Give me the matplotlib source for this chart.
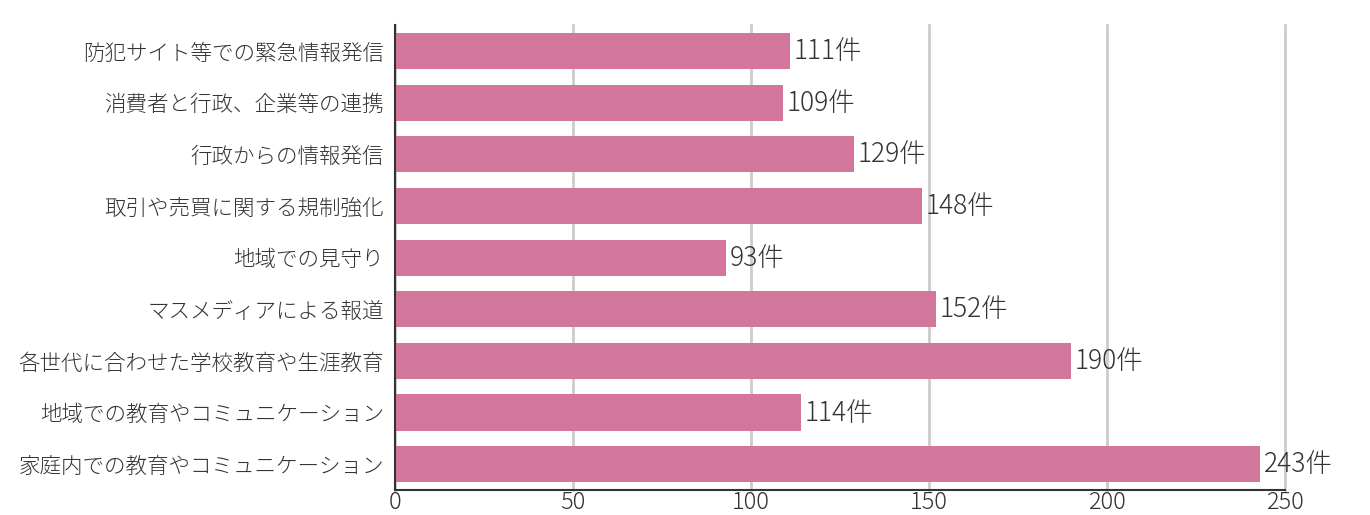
import matplotlib
matplotlib.use("Agg")
import matplotlib.pyplot as plt

plt.rcParams['font.family'] = ['Noto Sans CJK JP', 'DejaVu Sans']

categories = [
    "防犯サイト等での緊急情報発信",
    "消費者と行政、企業等の連携",
    "行政からの情報発信",
    "取引や売買に関する規制強化",
    "地域での見守り",
    "マスメディアによる報道",
    "各世代に合わせた学校教育や生涯教育",
    "地域での教育やコミュニケーション",
    "家庭内での教育やコミュニケーション",
]
values = [111, 109, 129, 148, 93, 152, 190, 114, 243]
xticks = [0, 50, 100, 150, 200, 250]

fig = plt.figure(figsize=(13.7, 5.15), dpi=100)
ax = fig.add_axes([0.2883, 0.0485, 0.9380 - 0.2883, 0.951 - 0.0485])

ypos = list(range(len(categories)))
ax.barh(ypos, values, height=0.7, color="#d3769c", zorder=3)
for y, v in zip(ypos, values):
    ax.text(v + 1, y, f"{v}件", va="center", ha="left", fontsize=19,
            color="#333333", fontweight="light")

ax.set_ylim(len(categories) - 0.5, -0.5)
ax.set_xlim(0, 250)
ax.set_yticks(ypos)
ax.set_yticklabels(categories, fontsize=15.5, color="#333333", fontweight="light")
ax.set_xticks(xticks)
ax.set_xticklabels([str(t) for t in xticks], fontsize=17, color="#333333", fontweight="light")
ax.tick_params(axis="both", length=0)
ax.tick_params(axis="y", pad=8)
ax.tick_params(axis="x", pad=0)

ax.grid(axis="x", color="#cccccc", linewidth=2, zorder=0)
for gl in ax.get_xgridlines():
    gl.set_clip_on(False)
ax.grid(axis="y", visible=False)
for s in ["top", "right"]:
    ax.spines[s].set_visible(False)
ax.spines["left"].set_color("#333333")
ax.spines["bottom"].set_color("#333333")
ax.spines["left"].set_linewidth(1.5)
ax.spines["bottom"].set_linewidth(1.5)
ax.spines["left"].set_zorder(4)

fig.savefig("out.png", dpi=100)
